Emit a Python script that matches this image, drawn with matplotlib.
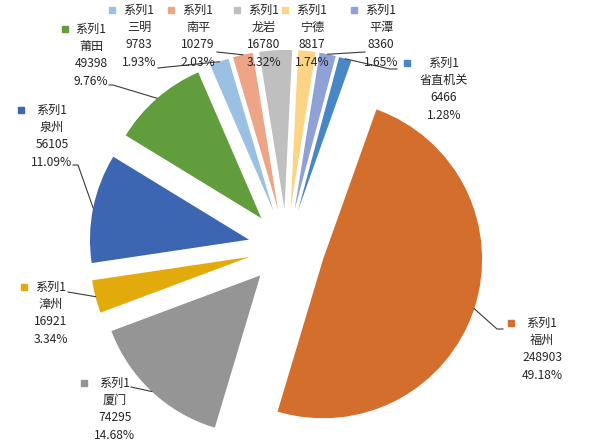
import numpy as np
import matplotlib.pyplot as plt

plt.rcParams['font.family'] = ['Noto Sans CJK SC', 'DejaVu Sans']

# data
regions = ['省直机关', '福州', '厦门', '漳州', '泉州', '莆田', '三明', '南平', '龙岩', '宁德', '平潭']
counts = [6466, 248903, 74295, 16921, 56105, 49398, 9783, 10279, 16780, 8817, 8360]
series_name = '系列1'

colors = ['#4787C6', '#D46E2C', '#959595', '#E2AA0A', '#3D66B2', '#619C3D',
          '#9CC0E4', '#EEA486', '#BFBFBF', '#FDD386', '#8FA1D7']

# label layout in image pixels: (text centre x, first line y, legend key x)
label_pos = {
    '省直机关': (444, 63, 407),
    '福州': (542, 323, 511),
    '厦门': (115, 383, 84),
    '漳州': (51, 287, 24),
    '泉州': (52, 110, 21),
    '莆田': (91, 29, 65),
    '三明': (139, 10, 112),
    '南平': (198, 10, 171),
    '龙岩': (264, 10, 237),
    '宁德': (312, 10, 285),
    '平潭': (381, 10, 354),
}
# leader line points on the label side (image pixels)
leaders = {
    '福州': [(503, 329), (497, 329)],
    '厦门': [(131, 387)],
    '漳州': [(68, 292)],
    '泉州': [(73, 165), (78, 165)],
    '莆田': [(109, 85), (113, 85)],
    '三明': [(158, 68)],
    '南平': [(217, 52)],
    '平潭': [(365, 52)],
    '省直机关': [(397, 69), (390, 69)],
}

W, H = 598, 442
fig = plt.figure(figsize=(W / 100, H / 100), dpi=100)
ax = fig.add_axes([0, 0, 1, 1])

cx, cy = 286.6, H - 247.3
R = 159
pull = 38.4

wedges, _ = ax.pie(counts, colors=colors, startangle=75, counterclock=False,
                   radius=R, center=(cx, cy), explode=[pull] * len(counts),
                   wedgeprops=dict(linewidth=0))

ax.set_xlim(0, W)
ax.set_ylim(0, H)
ax.set_aspect('equal')
ax.axis('off')

total = sum(counts)
text_color = '#262626'
fs = 8.7
step = 17.4

for name, val, w, col in zip(regions, counts, wedges, colors):
    xc, y0, kx = label_pos[name]
    lines = [series_name, name, str(val), f'{val / total:.2%}']
    for i, s in enumerate(lines):
        ax.text(xc, H - (y0 + i * step), s, ha='center', va='center',
                fontsize=fs, color=text_color)
    ax.plot(kx, H - y0, marker='s', markersize=5, color=col, linestyle='none')

    if name in leaders:
        mid = np.deg2rad((w.theta1 + w.theta2) / 2)
        px = w.center[0] + w.r * np.cos(mid)
        py = w.center[1] + w.r * np.sin(mid)
        pts = [(x, H - y) for x, y in leaders[name]] + [(px, py)]
        xs, ys = zip(*pts)
        ax.plot(xs, ys, color='#3a3a3a', linewidth=0.8)

plt.savefig('out.png', dpi=100)
